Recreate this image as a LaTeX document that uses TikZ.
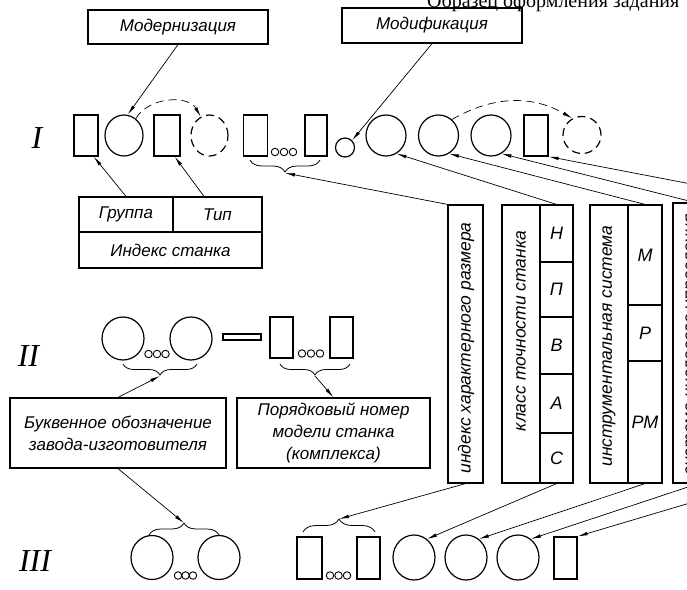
\documentclass[tikz,border=0pt]{standalone}
\usepackage{fontspec}
\setmainfont{Liberation Serif}
\newfontfamily\gost{Liberation Sans}
\usetikzlibrary{shapes.geometric,arrows.meta,decorations.pathreplacing,calc}

\tikzset{
    tall/.style={draw,line width=1.2pt,inner sep=0pt,minimum width=24pt,minimum height=41pt},
    ring/.style={draw,ellipse,line width=1.2pt,inner sep=0pt,minimum width=40pt,minimum height=41pt},
    ghost/.style={ring,dash pattern=on 8pt off 5pt},
    dot/.style={draw,circle,line width=0.9pt,inner sep=0pt,minimum size=7.5pt},
    note/.style={draw,line width=1.2pt,inner sep=0pt,align=center,font=\gost\itshape\fontsize{17}{22}\selectfont},
    column/.style={draw,line width=1.2pt,inner sep=0pt,minimum width=#1,minimum height=278pt},
    vtext/.style={rotate=90,inner sep=0pt,font=\gost\itshape\fontsize{17.5}{20}\selectfont},
    cell/.style={draw,line width=1.2pt,inner sep=0pt,minimum width=33pt,font=\gost\itshape\fontsize{18}{20}\selectfont},
    numeral/.style={font=\itshape\fontsize{32}{32}\selectfont},
    link/.style={line width=0.7pt,-{Latex[length=10pt,width=3.5pt]}},
    curly/.style={decorate,decoration={brace,amplitude=#1},line width=0.8pt}
}

\begin{document}
\begin{tikzpicture}[x=1pt,y=-1pt]
\useasboundingbox (0,0) rectangle (687,589);
\clip (0,0) rectangle (687,589);

\node[anchor=base west,inner sep=0pt,font=\fontsize{20}{20}\selectfont] (title) at (427,7) {Образец оформления задания};

% I
\node[numeral] (nI) at (37,138) {I};
\node[tall] (A) at (86,135.5) {};
\node[ring,minimum width=38pt] (B) at (124,135.5) {};
\node[tall,minimum width=26pt] (C) at (167,135.5) {};
\node[ghost,minimum width=37pt] (D) at (209.5,135.5) {};
\node[tall] (E) at (255.5,135.5) {};
\node[dot] (e1) at (275,152) {};
\node[dot] (e2) at (284,152) {};
\node[dot] (e3) at (293,152) {};
\node[tall,minimum width=22pt] (F) at (316,135.5) {};
\node[draw,circle,line width=1.2pt,inner sep=0pt,minimum size=19pt] (G) at (345,147.5) {};
\node[ring] (H) at (386,135.5) {};
\node[ring] (J) at (438.5,135.5) {};
\node[ring] (K) at (491,135.5) {};
\node[tall] (L) at (536,135.5) {};
\node[ghost,minimum width=38pt,minimum height=37pt] (M) at (582,135) {};

\node[note,minimum width=180pt,minimum height=34pt] (mod) at (178,27) {Модернизация};
\node[note,minimum width=180pt,minimum height=35pt] (mdf) at (432,25.5) {Модификация};

\node[note,minimum width=94pt,minimum height=35pt] (grp) at (126,214.5) {Группа};
\node[note,minimum width=89pt,minimum height=35pt] (typ) at (217.5,214.5) {Тип};
\node[note,minimum width=183pt,minimum height=36pt] (idx) at (170.5,250) {Индекс станка};
\coordinate (typA) at ($(typ.north west)!0.35!(typ.north east)$);

\coordinate (brIa) at (320,160);
\coordinate (brIb) at (250,160);
\coordinate (brI) at (285,173);
\draw[curly=12pt] (brIa) -- (brIb);

% II
\node[numeral] (nII) at (28.5,356) {II};
\node[ring,minimum width=42pt,minimum height=43pt] (N1) at (123,338.5) {};
\node[ring,minimum width=42pt,minimum height=43pt] (N2) at (191,338.5) {};
\node[dot] (n1) at (148.5,354) {};
\node[dot] (n2) at (157,354) {};
\node[dot] (n3) at (165.5,354) {};
\node[draw,line width=1.2pt,inner sep=0pt,minimum width=38pt,minimum height=6pt] (dash) at (242,337) {};
\node[tall,minimum width=23pt] (Q1) at (281.5,337.5) {};
\node[tall,minimum width=23pt] (Q2) at (341.5,337.5) {};
\node[dot] (q1) at (302,353.5) {};
\node[dot] (q2) at (311,353.5) {};
\node[dot] (q3) at (320,353.5) {};

\coordinate (brIIa1) at (197,364);
\coordinate (brIIa2) at (123,364);
\coordinate (brIIa) at (160,376);
\coordinate (brIIb1) at (350,364);
\coordinate (brIIb2) at (280,364);
\coordinate (brIIb) at (315,376);
\draw[curly=11pt] (brIIa1) -- (brIIa2);
\draw[curly=11pt] (brIIb1) -- (brIIb2);

\node[note,minimum width=216pt,minimum height=70pt] (buk) at (118,433) {Буквенное обозначение\\завода-изготовителя};
\node[note,minimum width=193pt,minimum height=70pt] (por) at (333.5,433) {Порядковый номер\\модели станка\\(комплекса)};

% columns
\node[column=35pt] (sz) at (465.5,344) {};
\node[vtext] (szT) at (466,348) {индекс характерного размера};

\node[column=38pt] (clsL) at (521,344) {};
\node[vtext] (clsT) at (521,331) {класс точности станка};
\node[cell,minimum height=57pt] (clsH) at (556.5,233.5) {Н};
\node[cell,minimum height=55pt] (clsP) at (556.5,289.5) {П};
\node[cell,minimum height=57pt] (clsB) at (556.5,345.5) {В};
\node[cell,minimum height=59pt] (clsA) at (556.5,403.5) {А};
\node[cell,minimum height=50pt] (clsC) at (556.5,458) {С};

\node[column=38pt] (insL) at (609,344) {};
\node[vtext] (insT) at (609,346) {инструментальная система};
\node[cell,minimum width=34pt,minimum height=100pt] (insM) at (645,255) {М};
\node[cell,minimum width=34pt,minimum height=56pt] (insR) at (645,333) {Р};
\node[cell,minimum width=34pt,minimum height=122pt] (insRM) at (645,422) {РМ};

\node[column=38pt,minimum height=280pt] (aut) at (692,343) {};
\node[vtext] (autT) at (692,345) {система числового управления};
\node[column=35pt,minimum height=280pt] (autC) at (728.5,343) {};

\coordinate (kend) at (697,203);
\coordinate (lend) at (790,203);
\coordinate (rend) at (700,483);
\coordinate (send) at (757,483);

% III
\node[numeral] (nIII) at (35,561) {III};
\node[ring,minimum width=42pt,minimum height=44pt] (C1) at (152,557.5) {};
\node[ring,minimum width=42pt,minimum height=44pt] (C2) at (219,557.5) {};
\node[dot] (c1) at (178,575.5) {};
\node[dot] (c2) at (185.5,575.5) {};
\node[dot] (c3) at (193,575.5) {};
\node[tall,minimum width=25pt,minimum height=42pt] (T1) at (309.5,558) {};
\node[tall,minimum width=23pt,minimum height=42pt] (T2) at (368.5,558) {};
\node[dot] (t1) at (330,575.5) {};
\node[dot] (t2) at (338.5,575.5) {};
\node[dot] (t3) at (347,575.5) {};
\node[ring,minimum width=42pt,minimum height=45pt] (P) at (414,557.5) {};
\node[ring,minimum width=42pt,minimum height=45pt] (Q) at (466,557.5) {};
\node[ring,minimum width=42pt,minimum height=45pt] (R) at (518,557.5) {};
\node[tall,minimum width=23pt,minimum height=42pt] (S) at (565.5,558) {};

\coordinate (brIIIa1) at (149,535);
\coordinate (brIIIa2) at (219,535);
\coordinate (brIIIa) at (184,523);
\coordinate (brIIIb1) at (303,532);
\coordinate (brIIIb2) at (375,532);
\coordinate (brIIIb) at (339,519);
\draw[curly=12pt] (brIIIa1) -- (brIIIa2);
\draw[curly=13pt] (brIIIb1) -- (brIIIb2);

% connectors
\draw[link] (mod.south) -- (B.80);
\draw[link] (mdf.south) -- (G.45);
\draw[link,dash pattern=on 8pt off 5pt] (B.55) to[out=60,in=120] (D.115);
\draw[link,dash pattern=on 8pt off 5pt] (J.50) to[out=30,in=150] (M.120);
\draw[link] (grp.north) -- (A.-70);
\draw[link] (typA) -- (C.-70);
\draw[link] (sz.north west) -- (brI);
\draw[link] (clsH.north) -- (H.-60);
\draw[link] (insM.north) -- (J.-60);
\draw[link] (kend) -- (K.-60);
\draw[link] (lend) -- (L.south east);

\draw[link] (buk.north) -- (brIIa);
\draw[link] (brIIb) -- (por.north);

\draw[link] (buk.south) -- (brIIIa);
\draw[link] (sz.south) -- (brIIIb);
\draw[link] (clsC.south) -- (P.55);
\draw[link] (insRM.south) -- (Q.55);
\draw[link] (rend) -- (R.55);
\draw[link] (send) -- (S.north east);
\end{tikzpicture}
\end{document}
